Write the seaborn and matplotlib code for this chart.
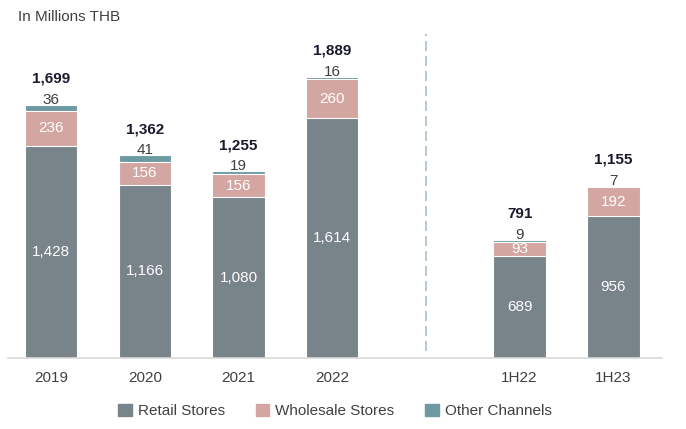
import numpy as np
import pandas as pd
import matplotlib.pyplot as plt
from matplotlib.patches import Patch
import seaborn as sns

# chart data
periods = ["2019", "2020", "2021", "2022", "1H22", "1H23"]
positions = [0, 1, 2, 3, 5, 6]
retail = [1428, 1166, 1080, 1614, 689, 956]
wholesale = [236, 156, 156, 260, 93, 192]
other = [36, 41, 19, 16, 9, 7]
totals = [1699, 1362, 1255, 1889, 791, 1155]

c_retail = "#78838a"
c_whole = "#d3a6a1"
c_other = "#6d9aa2"
txt = "#404040"

sns.set_theme(style="white")
plt.rcParams["font.family"] = ["Liberation Sans", "DejaVu Sans"]

df = pd.DataFrame({"pos": positions, "retail": retail,
                   "wholesale": wholesale, "other": other})
df["lvl2"] = df["retail"] + df["wholesale"]
df["lvl3"] = df["lvl2"] + df["other"]

fig = plt.figure(figsize=(6.86, 4.29), dpi=100)
ax = fig.add_axes([8 / 686, 71 / 429, 654 / 686, 327 / 429])

# stacked bars drawn back to front
for col, color in [("lvl3", c_other), ("lvl2", c_whole), ("retail", c_retail)]:
    sns.barplot(data=df, x="pos", y=col, native_scale=True, color=color,
                width=0.56, edgecolor="white", linewidth=0.8, saturation=1,
                ax=ax)

ax.set_xlim(-0.46, 6.52)
ax.set_ylim(0, 2200)
ax.set_xticks(positions)
ax.set_xticklabels(periods, fontsize=11, color=txt)
ax.tick_params(axis="x", length=0, pad=9)
ax.set_yticks([])
ax.set_xlabel("")
ax.set_ylabel("")
for s in ["top", "right", "left"]:
    ax.spines[s].set_visible(False)
ax.spines["bottom"].set_color("#d9d9d9")
ax.spines["bottom"].set_linewidth(1.2)

# divider between years and half-years
ax.axvline(4, ymin=0.02, ymax=0.99, color="#a9c0cc", linestyle=(0, (6, 3)),
           linewidth=1.2)

# value labels
for i, p in enumerate(positions):
    ax.text(p, retail[i] / 2, f"{retail[i]:,}", ha="center", va="center",
            color="white", fontsize=11)
    ax.text(p, retail[i] + wholesale[i] / 2, f"{wholesale[i]:,}",
            ha="center", va="center", color="white", fontsize=11)
    ax.annotate(f"{other[i]:,}", (p, df["lvl3"][i]), xytext=(0, 4),
                textcoords="offset points", ha="center", va="center",
                color=txt, fontsize=11)
    ax.annotate(f"{totals[i]:,}", (p, df["lvl3"][i]), xytext=(0, 19),
                textcoords="offset points", ha="center", va="center",
                color="#1a1a2e", fontsize=11, fontweight="bold")

fig.text(18 / 686, 1 - 17 / 429, "In Millions THB", fontsize=11, color=txt,
         va="center", ha="left")

handles = [Patch(color=c_retail, label="Retail Stores"),
           Patch(color=c_whole, label="Wholesale Stores"),
           Patch(color=c_other, label="Other Channels")]
leg = fig.legend(handles=handles, loc="center", bbox_to_anchor=(335 / 686, 1 - 411 / 429),
                 ncol=3, frameon=False, fontsize=11, handlelength=0.9,
                 handleheight=0.9, handletextpad=0.4, columnspacing=2.0)
for t in leg.get_texts():
    t.set_color(txt)

fig.savefig("out.png", dpi=100)
